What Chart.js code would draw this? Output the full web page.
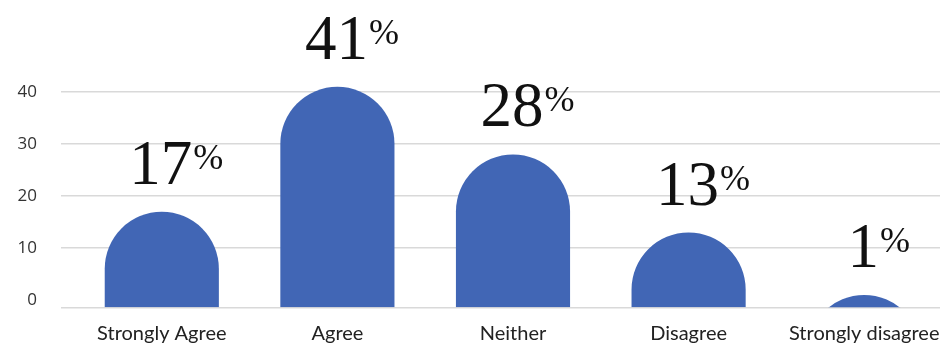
<!DOCTYPE html>
<html>
<head>
<meta charset="utf-8">
<script src="https://cdn.jsdelivr.net/npm/chart.js"></script>
<style>
  html, body { margin: 0; padding: 0; background: #fff; overflow: hidden; }
  #wrap { width: 954px; height: 348px; }
</style>
</head>
<body>
<div id="wrap"><canvas id="survey"></canvas></div>
<script>
const categories = ['Strongly Agree', 'Agree', 'Neither', 'Disagree', 'Strongly disagree'];
const percents = [17, 41, 28, 13, 1];
const yTicks = [0, 10, 20, 30, 40];

// axis floor sits a little under zero, like the original picture
const yMin = -1.5;
const yMax = 40;
const barColor = '#4166b5';
const gridColor = '#d9d9d9';

const domes = {
  id: 'domes',
  afterDatasetsDraw(chart) {
    const ctx = chart.ctx;
    const meta = chart.getDatasetMeta(0);
    meta.data.forEach((bar, i) => {
      const r = bar.width / 2;
      const cy = bar.y + r;
      ctx.save();
      ctx.beginPath();
      ctx.rect(bar.x - r - 2, 0, bar.width + 4, bar.base);
      ctx.clip();
      ctx.beginPath();
      ctx.moveTo(bar.x - r, Math.max(bar.base, cy));
      ctx.lineTo(bar.x - r, cy);
      ctx.arc(bar.x, cy, r, Math.PI, 0);
      ctx.lineTo(bar.x + r, Math.max(bar.base, cy));
      ctx.closePath();
      ctx.fillStyle = barColor;
      ctx.fill();
      ctx.restore();

      // value label: big digits with a raised percent sign
      const digits = String(percents[i]);
      ctx.save();
      ctx.fillStyle = '#111';
      ctx.textBaseline = 'alphabetic';
      ctx.textAlign = 'left';
      ctx.font = '63px "Liberation Serif"';
      const wd = ctx.measureText(digits).width;
      ctx.font = '36px "Liberation Serif"';
      const wp = ctx.measureText('%').width;
      const left = bar.x + 14 - (wd + wp) / 2;
      const baseY = bar.y - 28;
      ctx.font = '63px "Liberation Serif"';
      ctx.fillText(digits, left, baseY);
      ctx.font = '36px "Liberation Serif"';
      ctx.fillText('%', left + wd + 1, baseY - 15);
      ctx.restore();
    });
  }
};

new Chart(document.getElementById('survey').getContext('2d'), {
  type: 'bar',
  data: {
    labels: categories,
    datasets: [{
      data: percents,
      base: yMin,
      backgroundColor: 'rgba(0,0,0,0)',
      barPercentage: 0.65,
      categoryPercentage: 1
    }]
  },
  options: {
    responsive: true,
    maintainAspectRatio: false,
    animation: false,
    layout: { padding: { top: 92, left: 12, right: 2, bottom: 0 } },
    plugins: { legend: { display: false }, tooltip: { enabled: false } },
    scales: {
      x: {
        grid: { display: false, drawTicks: false },
        border: { display: false },
        afterFit: (scale) => { scale.height = 40; },
        ticks: {
          padding: 14,
          color: '#222',
          font: { family: 'Lato', size: 20 }
        }
      },
      y: {
        min: yMin,
        max: yMax,
        afterFit: (scale) => { scale.width = 62; },
        afterBuildTicks: (scale) => {
          scale.ticks = [yMin].concat(yTicks).map(v => ({ value: v }));
        },
        grid: {
          color: (c) => (c.tick && c.tick.value === 0) ? 'rgba(0,0,0,0)' : gridColor,
          lineWidth: 1.5,
          tickLength: 13
        },
        border: { display: false },
        ticks: {
          padding: 24,
          color: '#333',
          font: { family: 'Open Sans', size: 17 },
          callback: (v) => v === yMin ? '' : v
        }
      }
    }
  },
  plugins: [domes]
});
</script>
</body>
</html>
